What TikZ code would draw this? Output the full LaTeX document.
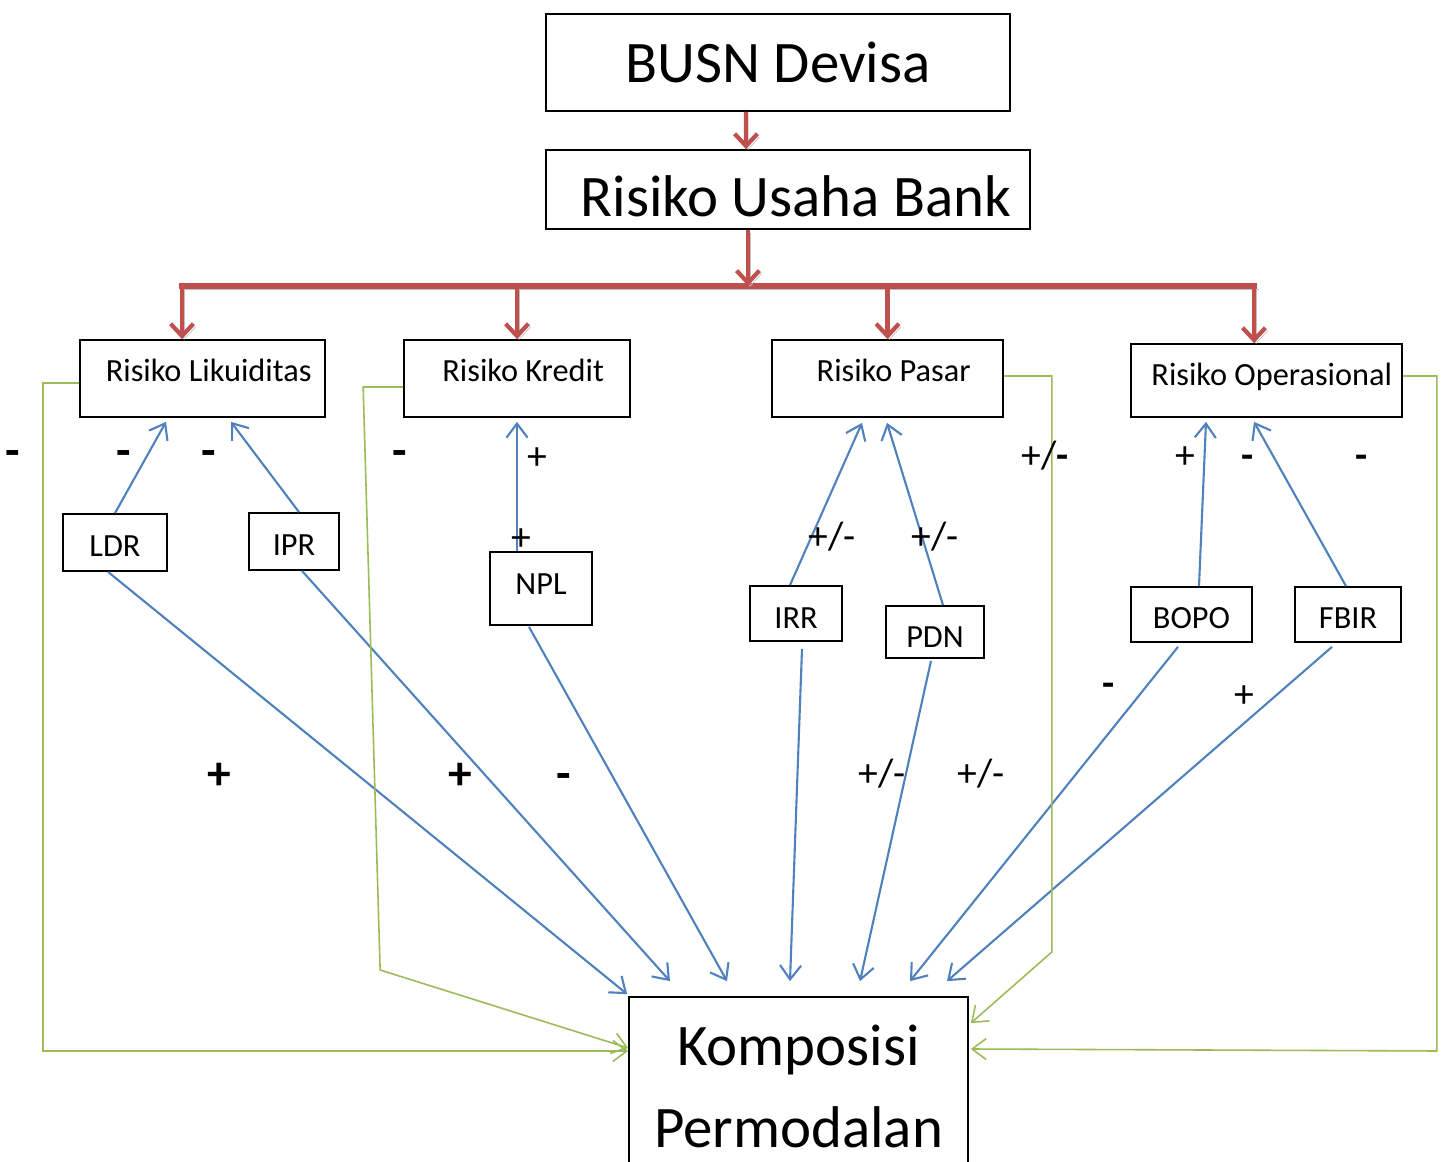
\documentclass[tikz,border=0pt]{standalone}
\usepackage{fontspec}
\setmainfont{Carlito}
\usetikzlibrary{arrows.meta, positioning, calc}
\definecolor{riskred}{RGB}{192, 80, 77}
\definecolor{linkblue}{RGB}{79, 129, 189}
\definecolor{linkgreen}{RGB}{155, 187, 89}

\begin{document}
\begin{tikzpicture}[
    x=0.02cm, y=-0.02cm,
    bigbox/.style={rectangle, draw=black, line width=1pt, inner sep=0pt, align=center, font=\fontsize{33.5}{47}\selectfont},
    riskbox/.style={rectangle, draw=black, line width=1pt, inner sep=0pt, align=center, text depth=0pt, font=\fontsize{18.4}{20}\selectfont},
    sign/.style={inner sep=0pt, text height=15.8pt, text depth=0pt, font=\fontsize{22.5}{24}\selectfont},
    boldsign/.style={sign, text height=18.8pt, font=\fontsize{27}{28}\selectfont\bfseries},
    shade/.style={preaction={draw=black!25, transform canvas={xshift=1.2pt, yshift=-1.8pt}}},
    redarrow/.style={-{Straight Barb[length=7pt,width=13pt]}, line width=2.4pt, riskred, shade},
    redbar/.style={line width=3.6pt, riskred, shade},
    bluearrow/.style={-{Straight Barb[length=8pt,width=12pt]}, line width=1.2pt, linkblue},
    greenarrow/.style={-{Straight Barb[length=8pt,width=12pt]}, line width=0.9pt, linkgreen}
]
    \useasboundingbox (0,0) rectangle (1445,1162);

    % Top of the tree
    \node (busn) [bigbox, minimum width=9.28cm, minimum height=1.94cm] at (778,62.5) {BUSN Devisa};
    \node (rub) [bigbox, minimum width=9.68cm, minimum height=1.58cm, text height=30.6pt, text depth=0pt] at (788,189.5) {\hspace*{9pt}Risiko Usaha Bank};

    % Risk types
    \node (lik) [riskbox, minimum width=4.9cm, minimum height=1.54cm, text height=3.3pt] at (202.5,378.5) {\hspace*{7pt}Risiko Likuiditas};
    \node (kre) [riskbox, minimum width=4.52cm, minimum height=1.54cm, text height=3.3pt] at (517,378.5) {\hspace*{7pt}Risiko Kredit};
    \node (pas) [riskbox, minimum width=4.62cm, minimum height=1.54cm, text height=3.3pt] at (887.5,378.5) {\hspace*{7pt}Risiko Pasar};
    \node (ops) [riskbox, minimum width=5.42cm, minimum height=1.46cm, text height=5.6pt] at (1266.5,380.5) {\hspace*{6pt}Risiko Operasional};

    % Ratios
    \node (ldr) [riskbox, minimum width=2.08cm, minimum height=1.14cm, text height=15.8pt] at (115,542.5) {LDR};
    \node (ipr) [riskbox, minimum width=1.8cm, minimum height=1.14cm, text height=15.8pt] at (294,541.5) {IPR};
    \node (npl) [riskbox, minimum width=2.04cm, minimum height=1.46cm, text height=6.7pt] at (541,588.5) {NPL};
    \node (irr) [riskbox, minimum width=1.84cm, minimum height=1.1cm, text height=16.9pt] at (796,613.5) {IRR};
    \node (pdn) [riskbox, minimum width=1.96cm, minimum height=1.04cm, text height=17.4pt] at (935,632) {PDN};
    \node (bopo) [riskbox, minimum width=2.42cm, minimum height=1.1cm, text height=15.8pt] at (1191.5,614.5) {BOPO};
    \node (fbir) [riskbox, minimum width=2.12cm, minimum height=1.1cm, text height=15.8pt] at (1348,614.5) {FBIR};

    % Target
    \node (kom) [bigbox, minimum width=6.78cm, minimum height=3.58cm] at (798.5,1086.5) {Komposisi\\Permodalan};

    % Red tree
    \coordinate (barL) at (182,286);
    \coordinate (barR) at (1254,286);
    \draw [redarrow] ([xshift=-0.64cm]busn.south) -- ([xshift=-0.84cm]rub.north);
    \draw [redbar] ([xshift=-1.5pt]barL) -- ([xshift=1.5pt]barR);
    \draw [redarrow] ([xshift=-0.8cm]rub.south) -- ([xshift=-0.8cm]rub.south |- barL);
    \draw [redarrow] (barL) -- (barL |- lik.north);
    \draw [redarrow] (kre.north |- barL) -- (kre.north);
    \draw [redarrow] (pas.north |- barL) -- (pas.north);
    \draw [redarrow] (barR) -- (barR |- ops.north);

    % Ratios up to risk types
    \draw [bluearrow] (ldr.north) -- ($(lik.south)+(-36.5,4)$);
    \draw [bluearrow] ($(ipr.north)+(5,0)$) -- ($(lik.south)+(28.5,4)$);
    \draw [bluearrow] ($(npl.north)+(-24,0)$) -- ($(kre.south)+(0,4)$);
    \draw [bluearrow] ($(irr.north)+(-6,0)$) -- ($(pas.south)+(-25.5,5)$);
    \draw [bluearrow] ($(pdn.north)+(8,0)$) -- ($(pas.south)+(-0.5,5)$);
    \draw [bluearrow] ($(bopo.north)+(7.5,0)$) -- ($(ops.south)+(-60.5,4)$);
    \draw [bluearrow] ($(fbir.north)+(-2,0)$) -- ($(ops.south)+(-12.5,4)$);

    % Ratios down to capital
    \draw [bluearrow] ($(ldr.south)+(-7,0)$) -- ($(kom.north west)+(-1,-2)$);
    \draw [bluearrow] ($(ipr.south)+(8,0)$) -- ($(kom.north)+(-128.5,-15)$);
    \draw [bluearrow] ($(npl.south)+(-12,1)$) -- ($(kom.north)+(-71.5,-15)$);
    \draw [bluearrow] ($(irr.south)+(6,7)$) -- ($(kom.north)+(-8.5,-15)$);
    \draw [bluearrow] ($(pdn.south)+(-4,2)$) -- ($(kom.north)+(61.5,-15)$);
    \draw [bluearrow] ($(bopo.south)+(-13.5,4)$) -- ($(kom.north)+(111.5,-15)$);
    \draw [bluearrow] ($(fbir.south)+(-16,4)$) -- ($(kom.north)+(148.5,-15)$);

    % Risk types straight to capital
    \draw [greenarrow] ($(lik.west)+(0,4.5)$) -- ++(-36,0) |- ($(kom.west)+(0,-35.5)$);
    \draw [greenarrow] ($(kre.west)+(0,8.5)$) -- ++(-40,0) -- ++(17,583) -- ($(kom.west)+(0,-38.5)$);
    \draw [greenarrow] ($(pas.east)+(0,-2.5)$) -- ++(48,0) -- ++(0,576) -- ($(kom.north east)+(2,27)$);
    \draw [greenarrow] ($(ops.east)+(0,-4.5)$) -- ++(34,0) -- ++(0,675) -- ($(kom.east)+(2,-37.5)$);

    % Signs
    \node (s1) [boldsign] at (13,450) {-};
    \node (s2) [boldsign] at (124,450) {-};
    \node (s3) [boldsign] at (209,450) {-};
    \node (s4) [boldsign] at (400,450) {-};
    \node (s5) [sign] at (537,456) {+};
    \node (s6) [sign] at (521,537) {+};
    \node (s7) [sign] at (832,536) {+/-};
    \node (s8) [sign] at (935,536) {+/-};
    \node (s9) [sign] at (1045,455) {+/\textbf{-}};
    \node (s10) [sign] at (1185,455) {+};
    \node (s11) [sign] at (1248,455) {\textbf{-}};
    \node (s12) [sign] at (1362,455) {\textbf{-}};
    \node (s13) [sign] at (1109,683) {\textbf{-}};
    \node (s14) [sign] at (1244,694) {+};
    \node (s15) [boldsign] at (219,773) {+};
    \node (s16) [boldsign] at (460,773) {+};
    \node (s17) [boldsign] at (564,773) {-};
    \node (s18) [sign] at (882,773) {+/-};
    \node (s19) [sign] at (981,773) {+/-};
\end{tikzpicture}
\end{document}
